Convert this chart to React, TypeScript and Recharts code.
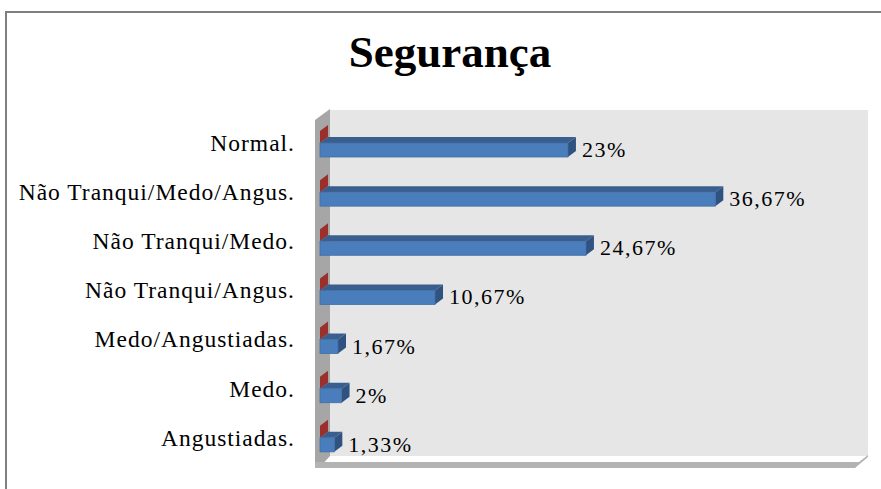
import { Bar, BarChart, LabelList, ReferenceArea, XAxis, YAxis } from "recharts"

const categorias = [
  "Normal.",
  "Não Tranqui/Medo/Angus.",
  "Não Tranqui/Medo.",
  "Não Tranqui/Angus.",
  "Medo/Angustiadas.",
  "Medo.",
  "Angustiadas.",
]
const percentuais = [23, 36.67, 24.67, 10.67, 1.67, 2, 1.33]
const serie2 = [0, 0, 0, 0, 0, 0, 0]

const data = categorias.map((name, i) => ({ name, valor: percentuais[i], serie2: serie2[i] }))

const DX = 8
const DY = 6
const serif = "'Liberation Serif', 'Times New Roman', serif"

const pts = (arr: number[][]) => arr.map((p) => p.join(",")).join(" ")

// paredes e chao do grafico 3D
function Walls(props: any) {
  const { x, y, width: w, height: h } = props
  return (
    <g>
      <polygon points={pts([[x + DX, y - DY - 2], [x + w + DX + 1, y - DY - 2], [x + w + DX + 1, y + h - DY], [x + DX, y + h - DY]])} fill="#e6e6e6" />
      <polygon points={pts([[x - 5, y + 2], [x + DX + 2, y - DY - 3], [x + DX + 2, y + h - DY], [x, y + h + 5], [x - 5, y + h + 5]])} fill="#a6a6a6" />
      <polygon points={pts([[x - 5, y + h], [x + w, y + h], [x + w + DX + 1, y + h - DY - 1], [x + w + DX + 1, y + h - DY + 1], [x + w - 4, y + h + 6], [x - 5, y + h + 6]])} fill="#b3b3b3" />
    </g>
  )
}

function BlueBar(props: any) {
  const { x, y, width: w, height: h } = props
  return (
    <g>
      <polygon points={pts([[x, y], [x + w, y], [x + w + DX, y - DY], [x + DX, y - DY]])} fill="#3a5f8e" />
      <polygon points={pts([[x + w, y], [x + w + DX, y - DY], [x + w + DX, y + h - DY], [x + w, y + h]])} fill="#2f5280" />
      <rect x={x} y={y} width={w} height={h} fill="#4a7dbb" stroke="#3f6ea6" strokeWidth={0.8} />
    </g>
  )
}

function RedBar(props: any) {
  const { x, y, height: h } = props
  return <polygon points={pts([[x, y + h], [x, y + 2], [x + DX, y - DY + 2], [x + DX, y + h - DY]])} fill="#9b2f2c" />
}

function ValueLabel(props: any) {
  const { x, y, width, height, value } = props
  const txt = String(value).replace(".", ",") + "%"
  return (
    <text x={x + width + 14} y={y + height / 2 + 7} fontSize={22} fontFamily={serif} letterSpacing={1.5} fill="#000">
      {txt}
    </text>
  )
}

export default function App() {
  return (
    <div style={{ position: "absolute", left: 0, top: 0, width: 881, height: 489, overflow: "hidden", background: "#fff" }}>
      <div style={{ position: "absolute", left: 5, top: 11, width: 1000, height: 1000, border: "2px solid #7f7f7f" }} />
      <div
        style={{
          position: "absolute",
          left: 0,
          top: 30,
          width: 900,
          textAlign: "center",
          fontFamily: serif,
          fontWeight: "bold",
          fontSize: 45,
          lineHeight: "45px",
        }}
      >
        Segurança
      </div>
      <div style={{ position: "absolute", left: 0, top: 0 }}>
        <BarChart
          width={881}
          height={489}
          data={data}
          layout="vertical"
          margin={{ top: 118, right: 22, left: 0, bottom: 27 }}
          barSize={14}
          barGap={0}
        >
          <XAxis type="number" domain={[0, 50]} hide />
          <YAxis
            type="category"
            dataKey="name"
            width={320}
            interval={0}
            axisLine={false}
            tickLine={false}
            tickSize={0}
            tickMargin={25}
            tick={{ fill: "#000", fontSize: 23.5, fontFamily: serif, letterSpacing: 1 }}
          />
          <ReferenceArea x1={0} x2={50} shape={<Walls />} ifOverflow="visible" />
          <Bar dataKey="serie2" fill="#9b2f2c" shape={<RedBar />} isAnimationActive={false} />
          <Bar dataKey="valor" fill="#4a7dbb" shape={<BlueBar />} isAnimationActive={false}>
            <LabelList dataKey="valor" content={<ValueLabel />} />
          </Bar>
        </BarChart>
      </div>
    </div>
  )
}
